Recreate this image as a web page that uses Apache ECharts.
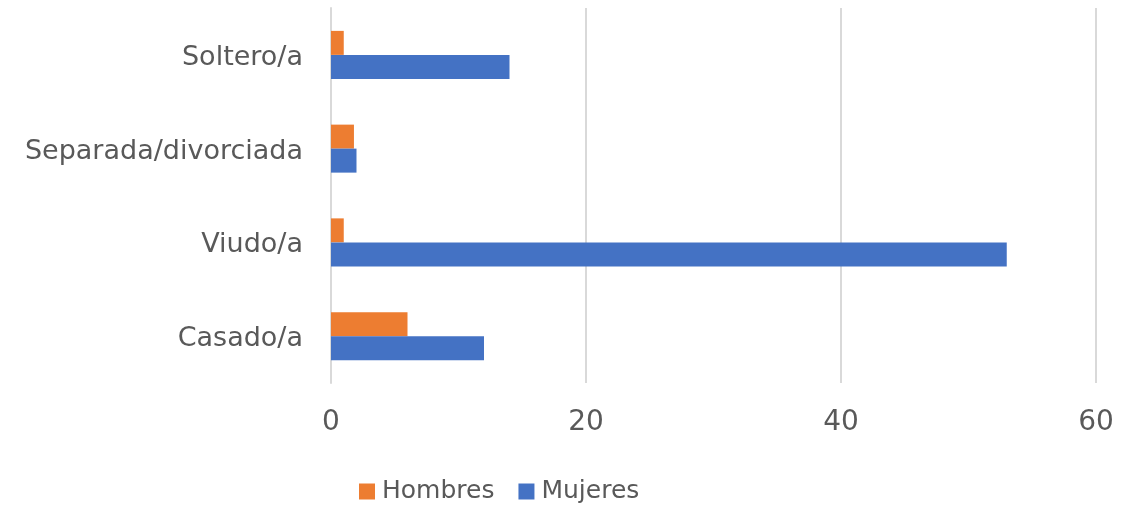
<!DOCTYPE html>
<html><head><meta charset="utf-8">
<script src="https://cdn.jsdelivr.net/npm/echarts@6/dist/echarts.min.js"></script>
<style>html,body{margin:0;padding:0;background:#fff}#c{width:1136px;height:506px}</style>
</head><body><div id="c"></div>
<script>
var categories = ["Casado/a", "Viudo/a", "Separada/divorciada", "Soltero/a"];
var hombres = [6, 1, 1.8, 1];
var mujeres = [12, 53, 2, 14];
var xTicks = [0, 20, 40, 60];

var font = "DejaVu Sans";
var grey = '#595959';
var chart = echarts.init(document.getElementById('c'));
chart.setOption({
  animation: false,
  textStyle: {fontFamily: font},
  grid: {left: 331, right: 40, top: 8, bottom: 123, containLabel: false},
  legend: {
    data: ["Hombres", "Mujeres"], top: 474, left: 354,
    itemWidth: 16, itemHeight: 16, itemGap: 24, icon: 'rect',
    textStyle: {fontSize: 25, color: grey, fontFamily: font, padding: [0, 0, 0, 2]}
  },
  xAxis: {
    type: 'value', min: xTicks[0], max: xTicks[xTicks.length - 1], interval: 20,
    axisLine: {show: false}, axisTick: {show: false},
    splitLine: {lineStyle: {color: '#d9d9d9', width: 2}},
    axisLabel: {fontSize: 28, color: grey, margin: 26, fontFamily: font}
  },
  yAxis: {
    type: 'category', data: categories,
    axisLine: {show: true, lineStyle: {color: '#d9d9d9', width: 2}},
    axisTick: {show: false},
    axisLabel: {
      margin: 28,
      formatter: function (v) { return '{s|}\n{a|' + v + '}'; },
      rich: {
        s: {height: 6, fontSize: 1, lineHeight: 6},
        a: {fontSize: 27, color: grey, fontFamily: font, lineHeight: 32}
      }
    }
  },
  series: [
    {name: "Hombres", type: 'bar', data: hombres, barWidth: 24, barGap: '0%', itemStyle: {color: '#ed7d31'}},
    {name: "Mujeres", type: 'bar', data: mujeres, barWidth: 24, barGap: '0%', itemStyle: {color: '#4472c4'}}
  ]
});
</script></body></html>
